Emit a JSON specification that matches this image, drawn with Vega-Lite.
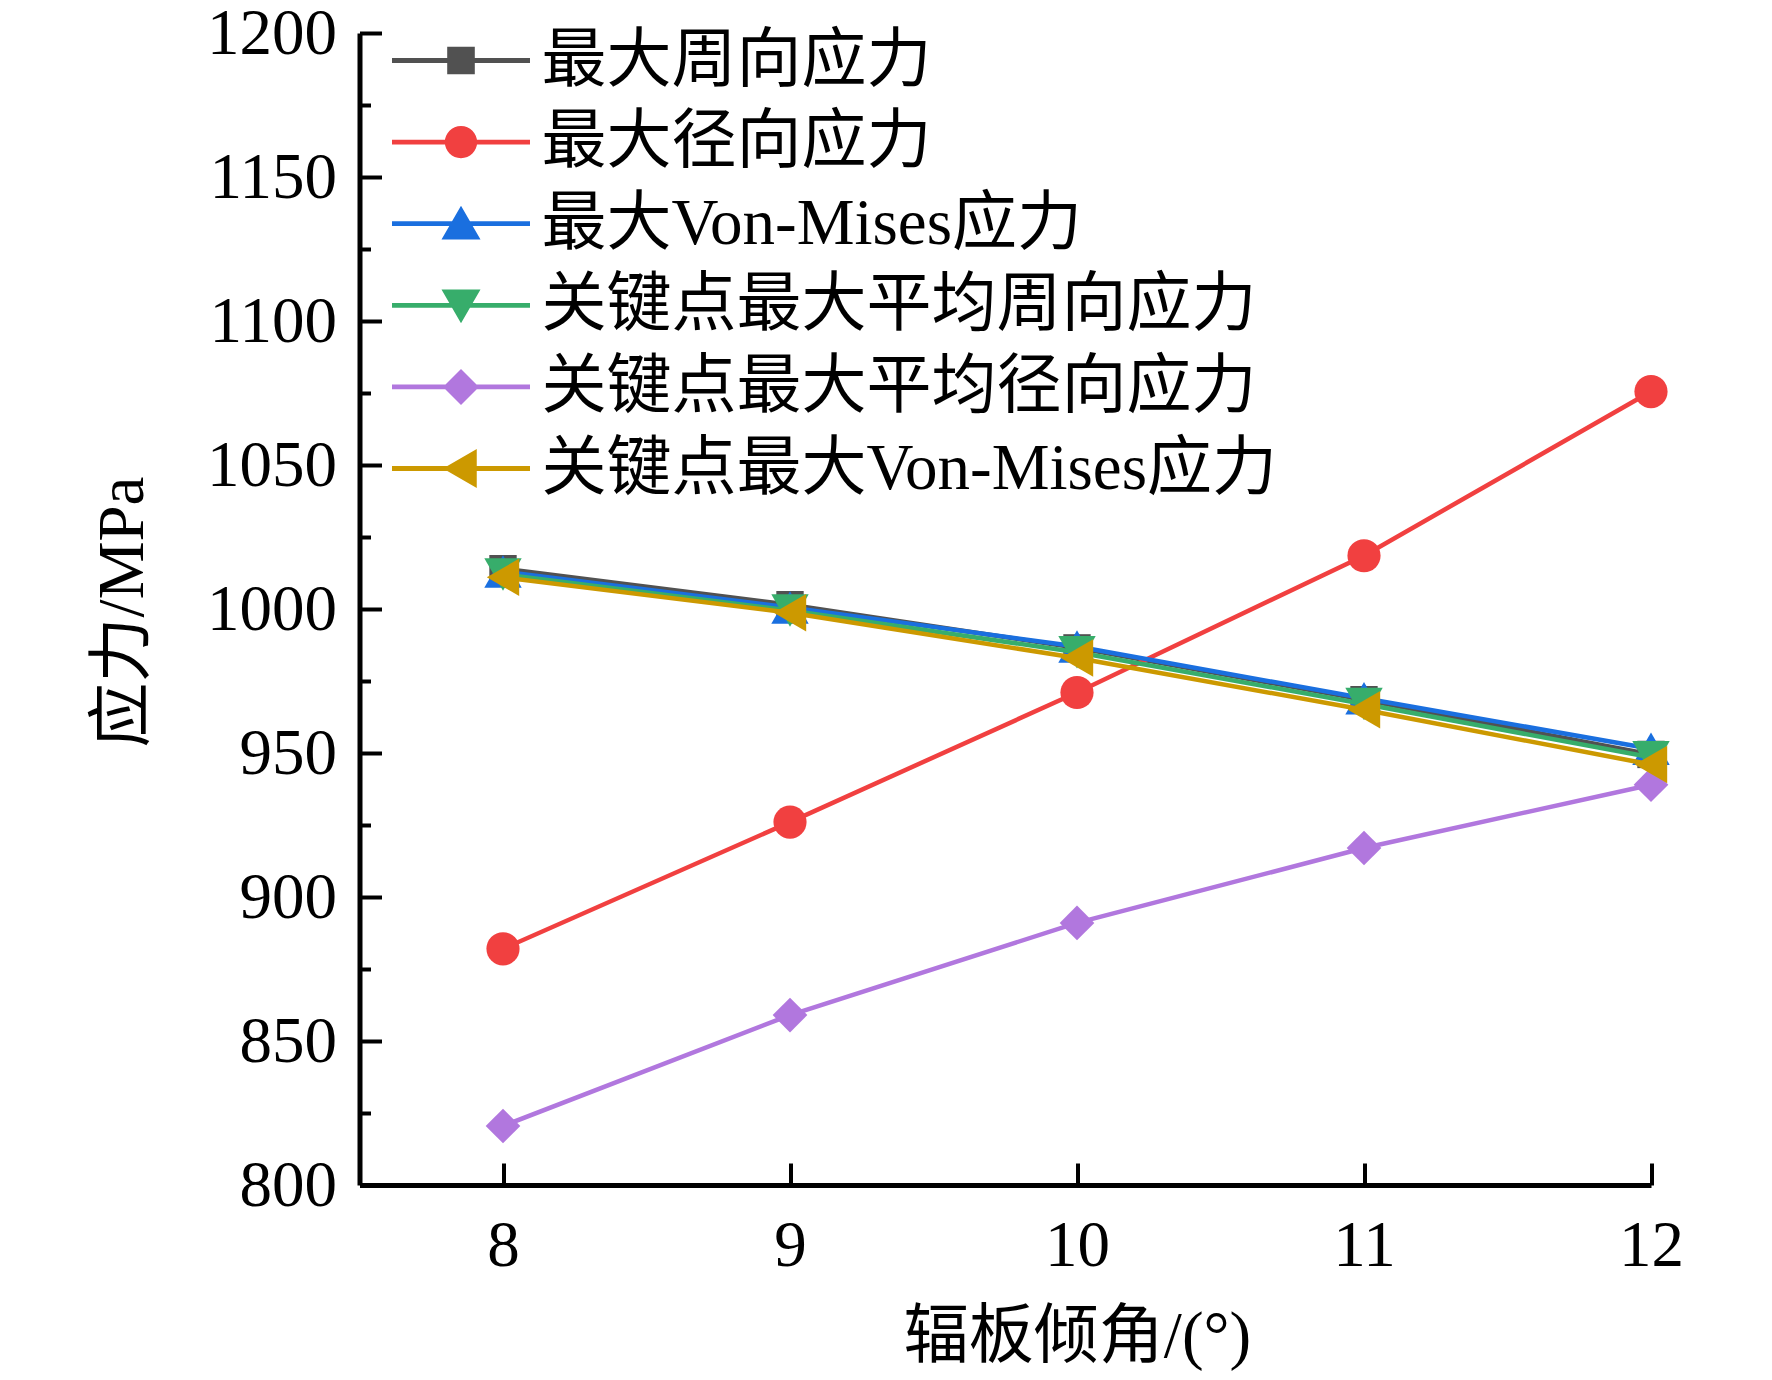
{
  "$schema": "https://vega.github.io/schema/vega-lite/v6.json",
  "width": 1291.5,
  "height": 1152,
  "autosize": {"type": "none"},
  "padding": {"left": 359.5, "top": 33, "right": 121, "bottom": 195},
  "background": "white",
  "config": {
    "view": {"stroke": null},
    "font": "'Liberation Serif', 'Noto Sans CJK SC', serif",
    "legend": {
      "orient": "none",
      "legendX": 69,
      "legendY": -5,
      "padding": 0,
      "labelFontSize": 65,
      "labelColor": "black",
      "labelLimit": 1000,
      "labelOffset": 48,
      "rowPadding": 15.6,
      "symbolSize": 900,
      "symbolOpacity": 1,
      "symbolStrokeWidth": 0
    }
  },
  "data": {
    "values": [
      {"angle": 8, "series": "最大周向应力", "stress": 1014},
      {"angle": 9, "series": "最大周向应力", "stress": 1001.5},
      {"angle": 10, "series": "最大周向应力", "stress": 986.5},
      {"angle": 11, "series": "最大周向应力", "stress": 968.5},
      {"angle": 12, "series": "最大周向应力", "stress": 949.5},
      {"angle": 8, "series": "最大径向应力", "stress": 882},
      {"angle": 9, "series": "最大径向应力", "stress": 926},
      {"angle": 10, "series": "最大径向应力", "stress": 971},
      {"angle": 11, "series": "最大径向应力", "stress": 1018.5},
      {"angle": 12, "series": "最大径向应力", "stress": 1075.5},
      {"angle": 8, "series": "最大Von-Mises应力", "stress": 1013},
      {"angle": 9, "series": "最大Von-Mises应力", "stress": 1000.5},
      {"angle": 10, "series": "最大Von-Mises应力", "stress": 987},
      {"angle": 11, "series": "最大Von-Mises应力", "stress": 969},
      {"angle": 12, "series": "最大Von-Mises应力", "stress": 951.5},
      {"angle": 8, "series": "关键点最大平均周向应力", "stress": 1012},
      {"angle": 9, "series": "关键点最大平均周向应力", "stress": 999.5},
      {"angle": 10, "series": "关键点最大平均周向应力", "stress": 985},
      {"angle": 11, "series": "关键点最大平均周向应力", "stress": 967},
      {"angle": 12, "series": "关键点最大平均周向应力", "stress": 948.5},
      {"angle": 8, "series": "关键点最大平均径向应力", "stress": 820.5},
      {"angle": 9, "series": "关键点最大平均径向应力", "stress": 859},
      {"angle": 10, "series": "关键点最大平均径向应力", "stress": 891},
      {"angle": 11, "series": "关键点最大平均径向应力", "stress": 917},
      {"angle": 12, "series": "关键点最大平均径向应力", "stress": 939},
      {"angle": 8, "series": "关键点最大Von-Mises应力", "stress": 1011},
      {"angle": 9, "series": "关键点最大Von-Mises应力", "stress": 998.7},
      {"angle": 10, "series": "关键点最大Von-Mises应力", "stress": 983},
      {"angle": 11, "series": "关键点最大Von-Mises应力", "stress": 965},
      {"angle": 12, "series": "关键点最大Von-Mises应力", "stress": 946}
    ]
  },
  "encoding": {
    "x": {
      "field": "angle",
      "type": "quantitative",
      "scale": {"domain": [7.5, 12], "nice": false, "zero": false},
      "axis": {
        "title": "辐板倾角/(°)",
        "titleFontSize": 65,
        "titleFontWeight": "normal",
        "titleColor": "black",
        "titleX": 717.5,
        "titleY": 151,
        "titleBaseline": "middle",
        "titleAlign": "center",
        "values": [8, 8.5, 9, 9.5, 10, 10.5, 11, 11.5, 12],
        "format": "d",
        "labelExpr": "datum.value % 1 === 0 ? datum.label : ''",
        "labelFontSize": 65,
        "labelColor": "black",
        "labelPadding": 51,
        "labelFlush": false,
        "grid": false,
        "domainColor": "black",
        "domainWidth": 5,
        "tickColor": "black",
        "tickWidth": 4,
        "tickSize": {"condition": {"test": "datum.value % 1 === 0", "value": -22}, "value": -11}
      }
    },
    "y": {
      "field": "stress",
      "type": "quantitative",
      "scale": {"domain": [800, 1200], "nice": false, "zero": false},
      "axis": {
        "title": "应力/MPa",
        "titleFontSize": 65,
        "titleFontWeight": "normal",
        "titleColor": "black",
        "titleAngle": -90,
        "titleX": -237.5,
        "titleY": 578.5,
        "titleBaseline": "middle",
        "titleAlign": "center",
        "values": [800, 825, 850, 875, 900, 925, 950, 975, 1000, 1025, 1050, 1075, 1100, 1125, 1150, 1175, 1200],
        "labelExpr": "datum.value % 50 === 0 ? datum.label : ''",
        "format": "d",
        "labelFontSize": 65,
        "labelColor": "black",
        "labelPadding": 45,
        "labelFlush": false,
        "grid": false,
        "domainColor": "black",
        "domainWidth": 5,
        "tickColor": "black",
        "tickWidth": 4,
        "tickSize": {"condition": {"test": "datum.value % 50 === 0", "value": -22}, "value": -11}
      }
    }
  },
  "layer": [
    {
      "transform": [{"filter": "datum.series === '最大周向应力'"}],
      "layer": [
        {"mark": {"type": "line", "strokeWidth": 4.5, "color": "#515151"}},
        {"mark": {"type": "point", "filled": true, "opacity": 1, "shape": "square", "size": 750, "color": "#515151"}}
      ]
    },
    {
      "transform": [{"filter": "datum.series === '最大径向应力'"}],
      "layer": [
        {"mark": {"type": "line", "strokeWidth": 4.5, "color": "#F14040"}},
        {"mark": {"type": "point", "filled": true, "opacity": 1, "shape": "circle", "size": 1100, "color": "#F14040"}}
      ]
    },
    {
      "transform": [{"filter": "datum.series === '最大Von-Mises应力'"}],
      "layer": [
        {"mark": {"type": "line", "strokeWidth": 4.5, "color": "#1A6FDF"}},
        {"mark": {"type": "point", "filled": true, "opacity": 1, "shape": "triangle-up", "size": 1400, "color": "#1A6FDF"}}
      ]
    },
    {
      "transform": [{"filter": "datum.series === '关键点最大平均周向应力'"}],
      "layer": [
        {"mark": {"type": "line", "strokeWidth": 4.5, "color": "#37AD6B"}},
        {"mark": {"type": "point", "filled": true, "opacity": 1, "shape": "triangle-down", "size": 1400, "color": "#37AD6B"}}
      ]
    },
    {
      "transform": [{"filter": "datum.series === '关键点最大平均径向应力'"}],
      "layer": [
        {"mark": {"type": "line", "strokeWidth": 4.5, "color": "#B177DE"}},
        {"mark": {"type": "point", "filled": true, "opacity": 1, "shape": "diamond", "size": 1200, "color": "#B177DE"}}
      ]
    },
    {
      "transform": [{"filter": "datum.series === '关键点最大Von-Mises应力'"}],
      "layer": [
        {"mark": {"type": "line", "strokeWidth": 4.5, "color": "#CC9900"}},
        {"mark": {"type": "point", "filled": true, "opacity": 1, "shape": "triangle-left", "size": 1400, "color": "#CC9900"}}
      ]
    },
    {
      "mark": {"type": "point", "filled": true, "size": 0},
      "encoding": {
        "color": {
          "field": "series",
          "type": "nominal",
          "title": null,
          "scale": {
            "domain": ["最大周向应力", "最大径向应力", "最大Von-Mises应力", "关键点最大平均周向应力", "关键点最大平均径向应力", "关键点最大Von-Mises应力"],
            "range": ["#515151", "#F14040", "#1A6FDF", "#37AD6B", "#B177DE", "#CC9900"]
          },
          "legend": {"title": null}
        },
        "shape": {
          "field": "series",
          "type": "nominal",
          "title": null,
          "scale": {
            "domain": ["最大周向应力", "最大径向应力", "最大Von-Mises应力", "关键点最大平均周向应力", "关键点最大平均径向应力", "关键点最大Von-Mises应力"],
            "range": [
              "M -4.6 -0.16 H 4.6 V 0.16 H -4.6 Z M -0.92 -0.92 H 0.92 V 0.92 H -0.92 Z",
              "M -4.6 -0.16 H 4.6 V 0.16 H -4.6 Z M -1.08 0 A 1.08 1.08 0 1 1 1.08 0 A 1.08 1.08 0 1 1 -1.08 0 Z",
              "M -4.6 -0.16 H 4.6 V 0.16 H -4.6 Z M 0 -1.2 L 1.3 1.05 L -1.3 1.05 Z",
              "M -4.6 -0.16 H 4.6 V 0.16 H -4.6 Z M -1.3 -1.05 L 1.3 -1.05 L 0 1.2 Z",
              "M -4.6 -0.16 H 4.6 V 0.16 H -4.6 Z M 0 -1.2 L 1.2 0 L 0 1.2 L -1.2 0 Z",
              "M -4.6 -0.16 H 4.6 V 0.16 H -4.6 Z M -1.2 0 L 1.05 -1.3 L 1.05 1.3 Z"
            ]
          },
          "legend": {"title": null}
        }
      }
    }
  ]
}
